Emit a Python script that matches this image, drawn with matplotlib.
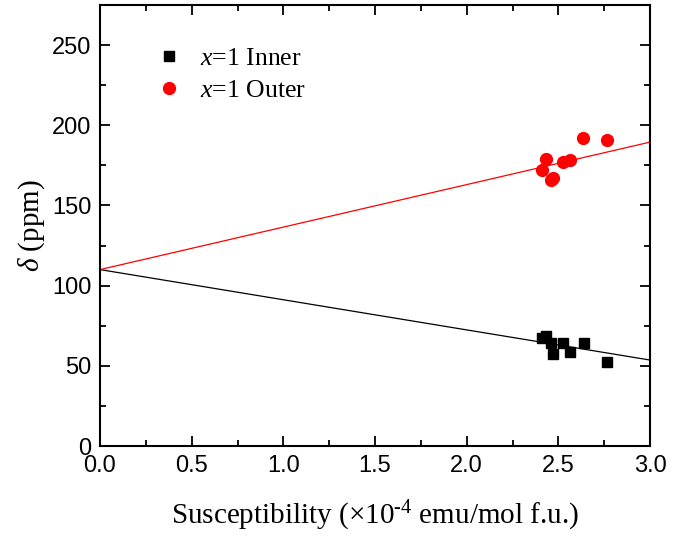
import matplotlib
matplotlib.use("Agg")
import matplotlib.pyplot as plt
import numpy as np
from matplotlib.ticker import MultipleLocator, FormatStrFormatter

plt.rcParams['mathtext.fontset'] = 'custom'
plt.rcParams['mathtext.rm'] = 'Liberation Serif'
plt.rcParams['mathtext.it'] = 'Liberation Serif:italic'

# Susceptibility (x1e-4 emu/mol f.u.) and shifts (ppm)
chi_inner = [2.41, 2.43, 2.46, 2.47, 2.525, 2.565, 2.64, 2.765]
delta_inner = [67.5, 68.7, 64.4, 57.5, 64.4, 58.8, 64.4, 52.3]
chi_outer = [2.41, 2.43, 2.46, 2.47, 2.525, 2.565, 2.635, 2.765]
delta_outer = [171.9, 179.0, 165.6, 166.9, 176.9, 178.1, 191.9, 190.6]

# Linear fits: intercept, slope
fit_inner = [110.0, -18.8]
fit_outer = [110.0, 26.5]

fig = plt.figure(figsize=(6.93, 5.36), dpi=100)
ax = fig.add_axes([0.1443, 0.1679, 0.938 - 0.1443, 0.9907 - 0.1679])

xf = np.array([0.0, 3.0])
ax.plot(xf, fit_inner[0] + fit_inner[1] * xf, color='black', lw=0.9)
ax.plot(xf, fit_outer[0] + fit_outer[1] * xf, color='red', lw=0.9)

ax.plot(chi_inner, delta_inner, 's', color='black', ms=7.5, ls='none',
        label=r'$x$=1 Inner')
ax.plot(chi_outer, delta_outer, 'o', color='red', ms=8.5, ls='none',
        label=r'$x$=1 Outer')

ax.set_xlim(0, 3.0)
ax.set_ylim(0, 275)
ax.xaxis.set_major_locator(MultipleLocator(0.5))
ax.xaxis.set_minor_locator(MultipleLocator(0.25))
ax.xaxis.set_major_formatter(FormatStrFormatter('%.1f'))
ax.yaxis.set_major_locator(MultipleLocator(50))
ax.yaxis.set_minor_locator(MultipleLocator(25))
ax.yaxis.set_major_formatter(FormatStrFormatter('%d'))
ax.tick_params(which='both', direction='in', top=True, right=True, width=1.3)
ax.tick_params(which='major', length=7, labelsize=17,
               labelfontfamily='Liberation Sans')
ax.tick_params(axis='x', which='major', pad=6.5)
ax.tick_params(axis='y', which='major', pad=6)
ax.tick_params(which='minor', length=4)
for s in ax.spines.values():
    s.set_linewidth(1.5)

ax.set_xlabel(r'Susceptibility ($\times$10$^{\text{-4}}$ emu/mol f.u.)',
              family='Liberation Serif', fontsize=21, labelpad=16)
ax.set_ylabel(r'$\delta$ (ppm)', family='Liberation Serif', fontsize=21,
              labelpad=4)

leg = ax.legend(loc='upper left', bbox_to_anchor=(0.055, 0.958), frameon=False,
                prop={'family': 'Liberation Serif', 'size': 18.5},
                handletextpad=0.6, labelspacing=0.35, handlelength=1.2)

fig.savefig('out.png', dpi=100)
